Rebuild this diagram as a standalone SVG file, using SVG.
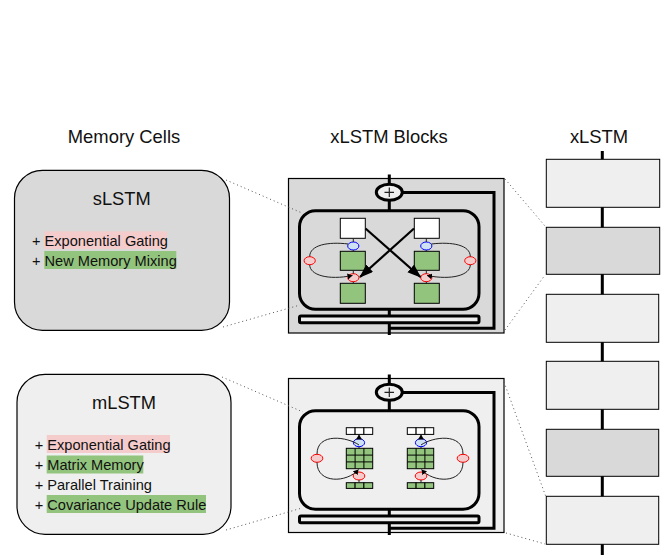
<svg xmlns="http://www.w3.org/2000/svg" width="666" height="558" viewBox="0 0 666 558">
<style>
text{font-family:"Liberation Sans",Arial,sans-serif;fill:#111}
.h{font-size:18.4px;text-anchor:middle}
.t{font-size:18.3px;text-anchor:middle}
.b{font-size:14.6px}
.cell{stroke:#000;stroke-width:1.2}
.dk{fill:#d9d9d9}.lt{fill:#efefef}
.box{stroke:#000;stroke-width:1}
.w{fill:#fff}.g{fill:#93c47d}
.pk{fill:#f4cccc}.hg{fill:#93c47d}
.st{fill:#efefef;stroke:#000;stroke-width:1}
.r{fill:#f4cccc;stroke:#f00;stroke-width:1}
.u{fill:#cfe2f3;stroke:#00f;stroke-width:1}
.dot{fill:none;stroke:#555;stroke-width:1;stroke-dasharray:1 3}
.thick{fill:none;stroke:#000;stroke-width:3}
.mid{fill:none;stroke:#000;stroke-width:2.2}
.thin{fill:none;stroke:#222;stroke-width:1}
</style>
<defs>
<marker id="big" markerUnits="userSpaceOnUse" markerWidth="15" markerHeight="12" refX="13" refY="5" orient="auto"><path d="M0,0L14,5L0,10z" fill="#000"/></marker>
<marker id="small" markerUnits="userSpaceOnUse" markerWidth="7" markerHeight="7" refX="5" refY="3" orient="auto"><path d="M0,0L5,3L0,6z" fill="#000"/></marker>
</defs>
<g id="titles">
<text class="h" x="124" y="143">Memory Cells</text>
<text class="h" x="389" y="143">xLSTM Blocks</text>
<text class="h" x="599" y="143">xLSTM</text>
</g>
<g id="block-s-bg"><rect x="288.500" y="178.500" width="215.500" height="154.500" class="cell dk"/></g>
<g id="block-m-bg"><rect x="288.500" y="378.500" width="215.500" height="154" class="cell lt"/></g>
<g id="s-cell">
<rect x="14.500" y="170.300" width="215" height="160" rx="28" class="cell dk"/>
<text class="t" x="121.700" y="205">sLSTM</text>
<rect x="44.300" y="231.300" width="122.700" height="17.700" class="pk"/>
<rect x="44.300" y="251" width="132" height="18" class="hg"/>
<text class="b" x="32" y="246">+ Exponential Gating</text>
<text class="b" x="32" y="266">+ New Memory Mixing</text>
</g>
<g id="m-cell">
<rect x="17" y="374.300" width="214" height="160" rx="28" class="cell lt"/>
<text class="t" x="124" y="409">mLSTM</text>
<rect x="46.700" y="435" width="123.300" height="18" class="pk"/>
<rect x="46.700" y="455.500" width="96.600" height="18" class="hg"/>
<rect x="46.700" y="495" width="159.300" height="18" class="hg"/>
<text class="b" x="34.700" y="450">+ Exponential Gating</text>
<text class="b" x="34.700" y="470">+ Matrix Memory</text>
<text class="b" x="34.700" y="490">+ Parallel Training</text>
<text class="b" x="34.700" y="510">+ Covariance Update Rule</text>
</g>
<g id="s-block">
<ellipse cx="389.300" cy="192.300" rx="13" ry="8" fill="#efefef" stroke="#000" stroke-width="3"/>
<path d="M384.500,192.300H394M389.300,187.500V197" stroke="#222" stroke-width="1.200"/>
<rect x="299.500" y="210.700" width="179.500" height="98.600" rx="16" class="thick"/>
<rect x="299.500" y="316" width="179.500" height="6.700" rx="1.500" fill="#efefef" stroke="#000" stroke-width="3"/>
<rect x="340.300" y="218.300" width="25" height="20" class="box w"/>
<rect x="414.300" y="218.300" width="25" height="20" class="box w"/>
<rect x="340.300" y="251.300" width="25" height="19" class="box g"/>
<rect x="414.300" y="251.300" width="25" height="19" class="box g"/>
<rect x="340.300" y="283.300" width="25" height="20" class="box g"/>
<rect x="414.300" y="283.300" width="25" height="20" class="box g"/>
<ellipse cx="353.300" cy="246" rx="5.600" ry="4" class="u"/>
<ellipse cx="426.300" cy="246" rx="5.600" ry="4" class="u"/>
<ellipse cx="353.300" cy="277.700" rx="5.600" ry="4" class="r"/>
<ellipse cx="426.300" cy="277.700" rx="5.600" ry="4" class="r"/>
<ellipse cx="309.700" cy="260.700" rx="5.600" ry="4" class="r"/>
<ellipse cx="470.300" cy="260.700" rx="5.600" ry="4" class="r"/>
</g>
<g id="m-block">
<ellipse cx="389.300" cy="392.300" rx="13" ry="8" fill="#efefef" stroke="#000" stroke-width="3"/>
<path d="M384.500,392.300H394M389.300,387.500V397" stroke="#222" stroke-width="1.200"/>
<rect x="299.500" y="410.700" width="179.500" height="98.600" rx="16" class="thick"/>
<rect x="299.500" y="516" width="179.500" height="6.700" rx="1.500" fill="#efefef" stroke="#000" stroke-width="3"/>
<g class="box w"><rect x="346.300" y="427.700" width="8.800" height="6.700"/><rect x="355.100" y="427.700" width="8.800" height="6.700"/><rect x="363.900" y="427.700" width="8.800" height="6.700"/></g>
<g class="box w"><rect x="407.300" y="427.700" width="8.800" height="6.700"/><rect x="416.100" y="427.700" width="8.800" height="6.700"/><rect x="424.900" y="427.700" width="8.800" height="6.700"/></g>
<g class="box g"><rect x="346.300" y="482.700" width="8.800" height="5.700"/><rect x="355.100" y="482.700" width="8.800" height="5.700"/><rect x="363.900" y="482.700" width="8.800" height="5.700"/></g>
<g class="box g"><rect x="407.300" y="482.700" width="8.800" height="5.700"/><rect x="416.100" y="482.700" width="8.800" height="5.700"/><rect x="424.900" y="482.700" width="8.800" height="5.700"/></g>
<g class="box g">
<rect x="346.300" y="448.300" width="26.400" height="20.400"/>
<path d="M355.100,448.300V468.700M363.900,448.300V468.700M346.300,455.100H372.700M346.300,461.900H372.700" fill="none"/>
<rect x="407.300" y="448.300" width="26.400" height="20.400"/>
<path d="M416.100,448.300V468.700M424.900,448.300V468.700M407.300,455.100H433.700M407.300,461.900H433.700" fill="none"/>
</g>
<ellipse cx="359" cy="442.700" rx="5.600" ry="4" class="u"/>
<ellipse cx="421" cy="442.700" rx="5.600" ry="4" class="u"/>
<ellipse cx="359" cy="476" rx="5.800" ry="4" class="r"/>
<ellipse cx="421" cy="476" rx="5.800" ry="4" class="r"/>
<ellipse cx="317" cy="458.300" rx="5.800" ry="4" class="r"/>
<ellipse cx="463" cy="458.300" rx="5.800" ry="4" class="r"/>
</g>
<g id="stack">
<rect x="546.300" y="159.300" width="113.400" height="48" class="st"/>
<rect x="546.300" y="227.300" width="113.400" height="47" class="st" style="fill:#d9d9d9"/>
<rect x="546.300" y="294.300" width="112.400" height="48" class="st"/>
<rect x="546.300" y="361.300" width="112.400" height="48" class="st"/>
<rect x="546.300" y="429.300" width="112.400" height="47" class="st" style="fill:#d9d9d9"/>
<rect x="546.300" y="496.300" width="112.400" height="48" class="st"/>
</g>
<g id="connectors">
<path class="dot" d="M226,180L302,213M223,327L300,305M222,377L303,412M226,530L302,508"/>
<path class="dot" d="M505,179L545,226M505,330L545,275M504,382L546,497M506,533L545,544"/>
<path class="thick" d="M389.300,174.500V184M389.300,200.500V210.700M389.300,309.300V316M389.300,322.700V335M402.300,192.500H494V328.300H389.300"/>
<path class="thick" d="M389.300,374.500V384M389.300,400.500V410.700M389.300,509.300V516M389.300,522.700V535M402.300,392.500H494V528.300H389.300"/>
<path class="thick" d="M602.300,151V159.300M602.300,207.300V227.300M602.300,274.300V294.300M602.300,342.300V361.300M602.300,409.300V429.300M602.300,476.300V496.300M602.300,544.300V555"/>
<path class="mid" d="M365.500,228.500L420.500,277" marker-end="url(#big)"/>
<path class="mid" d="M414,228.500L360,277" marker-end="url(#big)"/>
<path class="thin" d="M348.300,244C328,241.500 309.700,245 309.700,256.600M309.700,264.800C309.700,275 328,280.500 352.500,275.500" marker-end="url(#small)"/>
<path class="thin" d="M431.300,244C452,241.500 470.300,245 470.300,256.600M470.300,264.800C470.300,275 452,280.500 427,275.500" marker-end="url(#small)"/>
<path class="thin" d="M353.300,238.300V242M353.300,250V251.300M353.300,270.300V273.700M353.300,281.700V283.300M426.300,238.300V242M426.300,250V251.300M426.300,270.300V273.700M426.300,281.700V283.300"/>
<path class="thin" d="M359,445C348,437 317,432 317,454.200M317,462.400C317,484 347,483 358.500,469.500" marker-end="url(#small)"/>
<path class="thin" d="M421,445C432,437 463,432 463,454.200M463,462.400C463,484 433,483 421.500,469.500" marker-end="url(#small)"/>
<path class="thin" d="M359,448.300V446.700M421,448.300V446.700"/>
<path class="thin" d="M359,438.700V434.600" marker-end="url(#small)"/>
<path class="thin" d="M421,438.700V434.600" marker-end="url(#small)"/>
<path class="thin" d="M359,482.700V480M421,482.700V480"/>
</g>
</svg>
